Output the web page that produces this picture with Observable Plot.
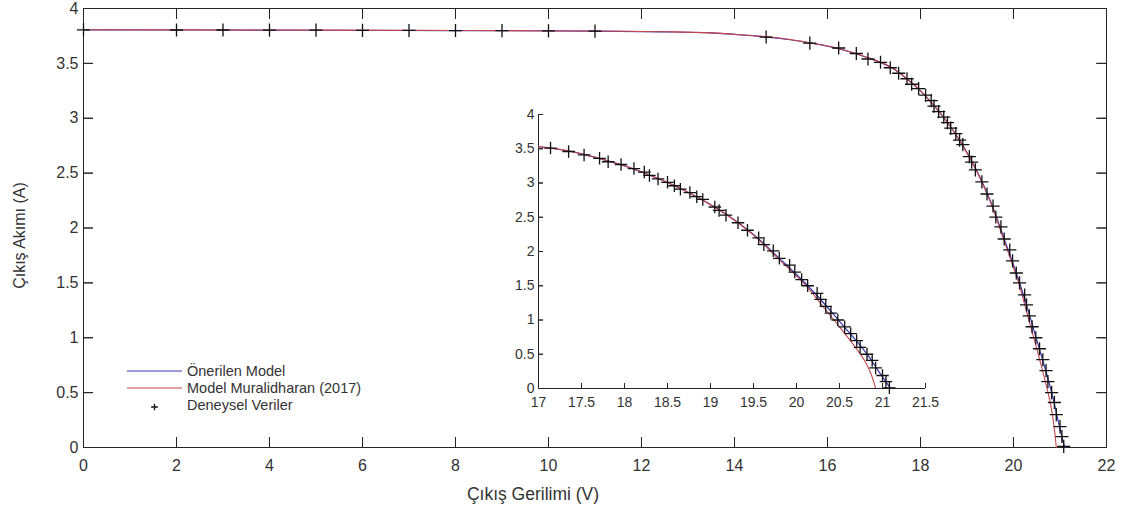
<!DOCTYPE html>
<html><head><meta charset="utf-8">
<script src="https://cdn.jsdelivr.net/npm/d3@7"></script>
<script src="https://cdn.jsdelivr.net/npm/@observablehq/plot@0.6"></script>
<style>
body{margin:0;background:#fff;}
#wrap{position:relative;width:1125px;height:513px;overflow:hidden;}
#wrap > *{position:absolute;}
</style></head><body><div id="wrap"></div>
<script>
// ---- data ----
const voltExp = [0,2,3,4,5,6,7,8,9,10,11,14.68,15.62,16.24,16.62,16.87,
  17.14,17.35,17.53,17.71,17.81,17.96,18.11,18.23,18.29,18.39,18.50,18.58,18.65,18.76,18.84,18.91,
  19.05,19.10,19.18,19.32,19.43,19.56,19.62,19.73,19.80,19.92,19.98,20.06,20.13,20.24,20.28,20.34,
  20.40,20.48,20.56,20.63,20.70,20.74,20.82,20.88,20.92,21.00,21.04,21.08];
const currExp = [3.806,3.804,3.804,3.803,3.803,3.801,3.800,3.799,3.798,3.796,3.794,3.740,3.685,3.640,3.590,3.540,
  3.51,3.46,3.41,3.36,3.31,3.27,3.21,3.16,3.11,3.06,3.01,2.96,2.91,2.86,2.80,2.76,
  2.65,2.60,2.53,2.42,2.31,2.20,2.10,2.01,1.90,1.80,1.70,1.59,1.50,1.39,1.30,1.20,
  1.10,1.00,0.90,0.80,0.70,0.60,0.50,0.41,0.30,0.19,0.10,0.01];

const voltProp = [0,4,8,11,12.5,13.5,14.2,14.7,15.2,15.6,16.0,16.4,16.8,17.1,17.4,17.7,18.0,18.3,18.6,18.9,19.2,19.5,19.8,20.1,20.3,20.5,20.7,20.85,20.95,21.05,21.1];
const currProp = [3.806,3.803,3.799,3.794,3.787,3.777,3.757,3.740,3.715,3.687,3.657,3.615,3.560,3.515,3.455,3.360,3.250,3.110,2.950,2.760,2.530,2.250,1.900,1.540,1.270,0.980,0.690,0.450,0.260,0.080,0.0];

const voltMur = [0,4,8,11,12.5,13.5,14.2,14.7,15.2,15.6,16.0,16.4,16.8,17.1,17.4,17.7,18.0,18.3,18.6,18.9,19.2,19.5,19.8,20.1,20.3,20.5,20.7,20.8,20.87,20.92];
const currMur = [3.807,3.804,3.800,3.795,3.788,3.778,3.758,3.742,3.717,3.689,3.659,3.617,3.562,3.517,3.457,3.362,3.252,3.112,2.950,2.755,2.525,2.240,1.880,1.515,1.210,0.900,0.575,0.390,0.200,0.0];

const xTicksMain = [0,2,4,6,8,10,12,14,16,18,20,22];
const yTicksMain = [0,0.5,1,1.5,2,2.5,3,3.5,4];
const xTicksInset = [17,17.5,18,18.5,19,19.5,20,20.5,21,21.5];
const yTicksInset = [0,0.5,1,1.5,2,2.5,3,3.5,4];

const seriesNames = ["Önerilen Model","Model Muralidharan (2017)","Deneysel Veriler"];
const xTitle = "Çıkış Gerilimi (V)";
const yTitle = "Çıkış Akımı (A)";

// ---- styles ----
const blue = "#3535b0", red = "#c8464e", ink = "#111", axisColor = "#262626", textColor = "#333";
const font = "Liberation Sans, Arial, sans-serif";
const fmt = d => String(d);
const blank = () => "";

const expData = voltExp.map((v,k)=>({v, i: currExp[k]}));
const propData = voltProp.map((v,k)=>({v, i: currProp[k]}));
const murData = voltMur.map((v,k)=>({v, i: currMur[k]}));

const wrap = document.getElementById("wrap");
const place = (el, left, top) => { el.style.left = left + "px"; el.style.top = top + "px"; wrap.appendChild(el); return el; };

// ---- main chart geometry ----
const W = 1125, H = 513, mL = 83, mR = 19, mT = 8, mB = 66, tl = 10;
const pw = W - mL - mR, ph = H - mT - mB;
const xD = [xTicksMain[0], xTicksMain[xTicksMain.length - 1]];
const yD = [yTicksMain[0], yTicksMain[yTicksMain.length - 1]];
const tx = (xD[1] - xD[0]) * tl / pw, ty = (yD[1] - yD[0]) * tl / ph;
const mainDims = {width: W, height: H, marginLeft: mL, marginRight: mR, marginTop: mT, marginBottom: mB};

const main = Plot.plot({
  ...mainDims, x: {domain: xD}, y: {domain: yD},
  style: {fontFamily: font, fontSize: "16px", color: textColor, background: "transparent"},
  marks: [
    Plot.axisX({ticks: xTicksMain, tickFormat: fmt, tickSize: 0, tickPadding: 12, label: null, fontSize: 16, fill: textColor}),
    Plot.axisY({ticks: yTicksMain, tickFormat: fmt, tickSize: 0, tickPadding: 5, label: null, fontSize: 16, fill: textColor}),
    // inward ticks via the library's axis marks (shifted into the frame)
    Plot.axisX({anchor: "bottom", ticks: xTicksMain, tickFormat: blank, tickSize: tl, dy: -tl, label: null, stroke: axisColor}),
    Plot.axisX({anchor: "top", ticks: xTicksMain, tickFormat: blank, tickSize: tl, dy: tl, label: null, stroke: axisColor}),
    Plot.axisY({anchor: "left", ticks: yTicksMain, tickFormat: blank, tickSize: tl, dx: tl, label: null, stroke: axisColor}),
    Plot.axisY({anchor: "right", ticks: yTicksMain, tickFormat: blank, tickSize: tl, dx: -tl, label: null, stroke: axisColor}),
    Plot.frame({stroke: axisColor}),
    Plot.line(propData, {x: "v", y: "i", stroke: blue, strokeWidth: 1.2, curve: "catmull-rom"}),
    Plot.line(murData, {x: "v", y: "i", stroke: red, strokeWidth: 1.1, curve: "catmull-rom"}),
    Plot.dot(expData, {x: "v", y: "i", symbol: "plus", r: 4.3, stroke: ink, strokeWidth: 1.3}),
    Plot.text([xTitle], {frameAnchor: "bottom", lineAnchor: "middle", textAnchor: "middle", dx: -62, dy: 47, fontSize: 17.5, fill: textColor}),
    Plot.text([yTitle], {frameAnchor: "left", textAnchor: "middle", lineAnchor: "middle", rotate: -90, dx: -64, dy: 7.5, fontSize: 16, fill: textColor})
  ]
});
place(main, 0, 0);

// inward ticks again on a transparent layer with the same scales
const mainTicks = Plot.plot({
  ...mainDims, x: {domain: xD, axis: null}, y: {domain: yD, axis: null},
  style: {background: "transparent"},
  marks: [
    Plot.ruleX(xTicksMain, {x: d=>d, y1: yD[0], y2: yD[0] + ty, stroke: axisColor}),
    Plot.ruleX(xTicksMain, {x: d=>d, y1: yD[1] - ty, y2: yD[1], stroke: axisColor}),
    Plot.ruleY(yTicksMain, {y: d=>d, x1: xD[0], x2: xD[0] + tx, stroke: axisColor}),
    Plot.ruleY(yTicksMain, {y: d=>d, x1: xD[1] - tx, x2: xD[1], stroke: axisColor})
  ]
});
place(mainTicks, 0, 0);

// ---- inset ----
const iX = 490, iY = 100;
const iW = 445, iH = 320, iL = 48, iR = 10, iT = 14, iB = 32, itl = 5;
const ipw = iW - iL - iR, iph = iH - iT - iB;
const ixD = [xTicksInset[0], xTicksInset[xTicksInset.length - 1]];
const iyD = [yTicksInset[0], yTicksInset[yTicksInset.length - 1]];
const itx = (ixD[1] - ixD[0]) * itl / ipw, ity = (iyD[1] - iyD[0]) * itl / iph;
const insetDims = {width: iW, height: iH, marginLeft: iL, marginRight: iR, marginTop: iT, marginBottom: iB};
const inset = Plot.plot({
  ...insetDims, x: {domain: ixD}, y: {domain: iyD},
  style: {fontFamily: font, fontSize: "14px", color: textColor, background: "transparent", overflow: "visible"},
  marks: [
    Plot.axisX({ticks: xTicksInset, tickFormat: fmt, tickSize: 0, tickPadding: 9, label: null, fontSize: 14, fill: textColor}),
    Plot.axisY({ticks: yTicksInset, tickFormat: fmt, tickSize: 0, tickPadding: 4, label: null, fontSize: 14, fill: textColor}),
    Plot.axisX({anchor: "bottom", ticks: xTicksInset, tickFormat: blank, tickSize: itl, dy: -itl, label: null, stroke: axisColor}),
    Plot.axisY({anchor: "left", ticks: yTicksInset, tickFormat: blank, tickSize: itl, dx: itl, label: null, stroke: axisColor}),
    Plot.ruleY([iyD[0]], {stroke: axisColor}),
    Plot.ruleX([ixD[0]], {stroke: axisColor}),
    Plot.line(propData, {x: "v", y: "i", stroke: blue, strokeWidth: 1.2, curve: "catmull-rom", clip: true}),
    Plot.line(murData, {x: "v", y: "i", stroke: red, strokeWidth: 1.1, curve: "catmull-rom", clip: true}),
    Plot.dot(expData.filter(d => d.v >= ixD[0]), {x: "v", y: "i", symbol: "plus", r: 4.1, stroke: ink, strokeWidth: 1.3})
  ]
});
place(inset, iX, iY);

const insetTicks = Plot.plot({
  ...insetDims, x: {domain: ixD, axis: null}, y: {domain: iyD, axis: null},
  style: {background: "transparent", overflow: "visible"},
  marks: [
    Plot.ruleX(xTicksInset, {x: d=>d, y1: iyD[0], y2: iyD[0] + ity, stroke: axisColor}),
    Plot.ruleY(yTicksInset, {y: d=>d, x1: ixD[0], x2: ixD[0] + itx, stroke: axisColor})
  ]
});
place(insetTicks, iX, iY);

// ---- legend ----
const leg = d3.create("svg").attr("width", W).attr("height", H)
  .style("pointer-events", "none")
  .attr("font-family", font).attr("font-size", 14.5).attr("fill", textColor);
const lx0 = 127, lx1 = 182, ltx = 187, ly0 = 371, ldy = 17;
const legColors = [blue, red, null];
seriesNames.forEach((name, k) => {
  const y = ly0 + k * ldy;
  if (legColors[k]) {
    leg.append("line").attr("x1", lx0).attr("x2", lx1).attr("y1", y).attr("y2", y)
      .attr("stroke", legColors[k]).attr("stroke-width", 1.2);
  } else {
    const cx = (lx0 + lx1) / 2, s = 3.3;
    leg.append("path").attr("d", `M${cx - s},${y + 2}H${cx + s}M${cx},${y + 2 - s}V${y + 2 + s}`)
      .attr("stroke", ink).attr("stroke-width", 1.3).attr("fill", "none");
  }
  leg.append("text").attr("x", ltx).attr("y", y).attr("dy", "0.35em").text(name);
});
place(leg.node(), 0, 0);
</script></body></html>
